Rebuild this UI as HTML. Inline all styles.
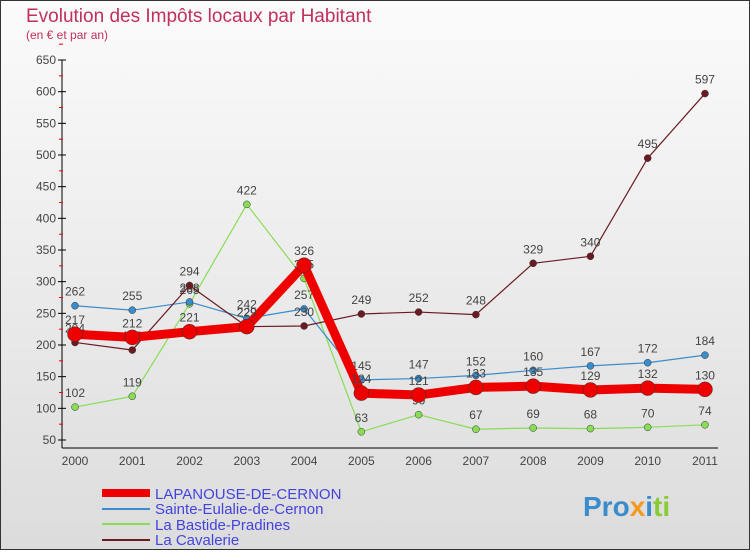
<!DOCTYPE html>
<html><head><meta charset="utf-8"><style>
body{margin:0;width:750px;height:550px;overflow:hidden;font-family:"Liberation Sans",sans-serif}
svg text{font-family:"Liberation Sans",sans-serif}
</style></head><body>
<svg id="c" width="750" height="550" xmlns="http://www.w3.org/2000/svg">
<defs><linearGradient id="bg" x1="0" y1="0" x2="0" y2="1"><stop offset="0" stop-color="#fbfbfb"/><stop offset="1" stop-color="#dcdcdc"/></linearGradient></defs>
<rect x="0.5" y="0.5" width="749" height="549" fill="url(#bg)" stroke="#333"/>
<text x="26" y="22" font-size="19" fill="#c0305a">Evolution des Impôts locaux par Habitant</text>
<text x="26" y="39" font-size="12" fill="#c0305a">(en € et par an)</text>
<line x1="62" y1="60" x2="62" y2="448" stroke="#000"/>
<line x1="62" y1="448" x2="718" y2="448" stroke="#000"/>
<g id="ticks"></g><g id="series"></g>
<g>
<line x1="102" y1="493" x2="150" y2="493" stroke="#e00" stroke-width="8"/>
<text x="155" y="499" font-size="15" fill="#4444dd">LAPANOUSE-DE-CERNON</text>
<line x1="102" y1="509" x2="150" y2="509" stroke="#3a8ccc" stroke-width="2"/>
<text x="155" y="514" font-size="15" fill="#4444dd">Sainte-Eulalie-de-Cernon</text>
<line x1="102" y1="524" x2="150" y2="524" stroke="#88dd55" stroke-width="2"/>
<text x="155" y="530" font-size="15" fill="#4444dd">La Bastide-Pradines</text>
<line x1="102" y1="540" x2="150" y2="540" stroke="#6b1a22" stroke-width="2"/>
<text x="155" y="545" font-size="15" fill="#4444dd">La Cavalerie</text>
</g>
<text x="583" y="516" font-size="28" font-weight="bold"><tspan fill="#3a8ccc">Pro</tspan><tspan fill="#f39a1e">x</tspan><tspan fill="#3a8ccc">i</tspan><tspan fill="#88cc33">ti</tspan></text>
</svg>
<script>
const years=[2000,2001,2002,2003,2004,2005,2006,2007,2008,2009,2010,2011];
const yTicks=[50,100,150,200,250,300,350,400,450,500,550,600,650];
const lapanouse=[217,212,221,229,326,124,121,133,135,129,132,130];
const sainteEulalie=[262,255,268,242,257,145,147,152,160,167,172,184];
const laBastide=[102,119,265,422,305,63,90,67,69,68,70,74];
const laCavalerie=[204,192,294,229,230,249,252,248,329,340,495,597];
const NS="http://www.w3.org/2000/svg";
const x=i=>75+i*57.27;
const y=v=>440-(v-50)*380/600;
function mk(t,a,p){const e=document.createElementNS(NS,t);for(const k in a)e.setAttribute(k,a[k]);p.appendChild(e);return e;}
const tk=document.getElementById('ticks');
yTicks.forEach(v=>{
 const l=mk('line',{x1:58,x2:66,y1:y(v),y2:y(v),stroke:'#000'},tk);
 
 
 const m=mk('line',{x1:59,x2:63,y1:y(v+25),y2:y(v+25),stroke:'#e00'},tk);
 
 
 const t=mk('text',{x:56,y:y(v)+4,'font-size':12,fill:'#444','text-anchor':'end'},tk);
 t.textContent=v;
 
 
});
years.forEach((yr,i)=>{
 const t=mk('text',{x:x(i),y:465,'font-size':12,fill:'#444','text-anchor':'middle'},tk);
 t.textContent=yr;
 
 
});
const sg=document.getElementById('series');
const S=[[laBastide,'#88dd55',1.2,3.5,'la-bastide'],[sainteEulalie,'#3a8ccc',1.2,3.5,'sainte-eulalie'],[laCavalerie,'#6b1a22',1.2,3.5,'la-cavalerie'],[lapanouse,'#e00',9,7.5,'lapanouse']];
S.forEach(([d,c,w,r,n])=>{
 const p=mk('polyline',{points:d.map((v,i)=>x(i)+','+y(v)).join(' '),fill:'none',stroke:c,'stroke-width':w,'stroke-linejoin':'round'},sg);
 
 
 d.forEach((v,i)=>{
  const ci=mk('circle',{cx:x(i),cy:y(v),r:r,fill:c,stroke:'#333','stroke-width':0.5},sg);
  
  
  const t=mk('text',{x:x(i),y:y(v)-10,'font-size':12,fill:'#444','text-anchor':'middle'},sg);
  t.textContent=v;
  
  
 });
});
</script>
</body></html>
